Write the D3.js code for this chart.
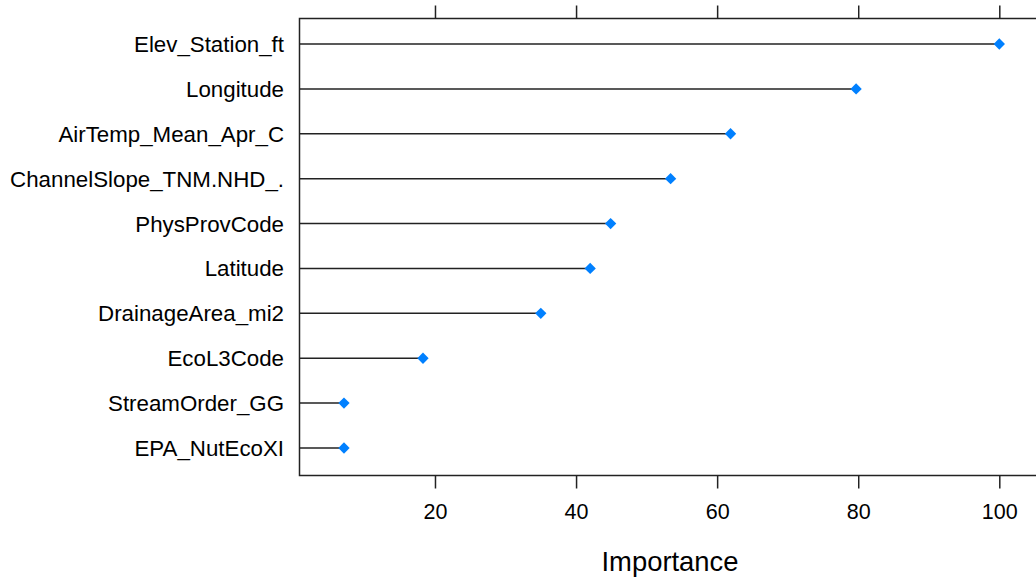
<!DOCTYPE html>
<html>
<head>
<meta charset="utf-8">
<script src="https://cdn.jsdelivr.net/npm/d3@7"></script>
<style>
  body { margin: 0; background: #fff; }
  text { font-family: "Liberation Sans", Arial, sans-serif; fill: #000; }
</style>
</head>
<body>
<div id="vis"></div>
<script>
// frame constants
const FRAME_WIDTH = 1036;
const FRAME_HEIGHT = 582;
const PLOT = {left: 299.5, right: 1045, top: 18.5, bottom: 475.5};

// data (top to bottom)
const variables = ["Elev_Station_ft", "Longitude", "AirTemp_Mean_Apr_C",
  "ChannelSlope_TNM.NHD_.", "PhysProvCode", "Latitude", "DrainageArea_mi2",
  "EcoL3Code", "StreamOrder_GG", "EPA_NutEcoXI"];
const importance = [100, 79.7, 61.9, 53.4, 44.9, 42.0, 35.0, 18.3, 7.1, 7.1];
const xTicks = [20, 40, 60, 80, 100];

const svg = d3.select("#vis")
  .append("svg")
    .attr("width", FRAME_WIDTH)
    .attr("height", FRAME_HEIGHT);

// scales
const X_SCALE = d3.scaleLinear()
  .domain([0, 100])
  .range([293.9, 999.3]);

const Y_SCALE = d3.scalePoint()
  .domain(variables)
  .range([44, 448]);

// stems from left edge to points
svg.selectAll(".stem")
  .data(variables)
  .enter()
  .append("line")
    .attr("x1", PLOT.left)
    .attr("x2", (d, i) => X_SCALE(importance[i]))
    .attr("y1", d => Y_SCALE(d))
    .attr("y2", d => Y_SCALE(d))
    .attr("stroke", "#222")
    .attr("stroke-width", 1.5);

// points
svg.selectAll(".pt")
  .data(variables)
  .enter()
  .append("path")
    .attr("d", d3.symbol().type(d3.symbolSquare).size(64))
    .attr("transform", (d, i) => "translate(" + X_SCALE(importance[i]) + "," + Y_SCALE(d) + ") rotate(45)")
    .attr("fill", "#0080ff");

// frame
svg.append("rect")
  .attr("x", PLOT.left)
  .attr("y", PLOT.top)
  .attr("width", PLOT.right - PLOT.left)
  .attr("height", PLOT.bottom - PLOT.top)
  .attr("fill", "none")
  .attr("stroke", "#222")
  .attr("stroke-width", 1.5);

// bottom axis
const bottomAxis = svg.append("g")
  .attr("transform", "translate(0," + PLOT.bottom + ")")
  .call(d3.axisBottom(X_SCALE).tickValues(xTicks).tickSize(13).tickPadding(15));
bottomAxis.select(".domain").remove();
bottomAxis.selectAll("line").attr("stroke", "#222").attr("stroke-width", 1.5);
bottomAxis.selectAll("text")
  .attr("font-size", "21.5px")
  .attr("font-family", "Liberation Sans, Arial, sans-serif")
  .attr("fill", "#000");

// top axis (ticks only)
const topAxis = svg.append("g")
  .attr("transform", "translate(0," + PLOT.top + ")")
  .call(d3.axisTop(X_SCALE).tickValues(xTicks).tickSize(13).tickFormat(""));
topAxis.select(".domain").remove();
topAxis.selectAll("line").attr("stroke", "#222").attr("stroke-width", 1.5);

// category labels
svg.selectAll(".lab")
  .data(variables)
  .enter()
  .append("text")
    .attr("x", 284)
    .attr("y", d => Y_SCALE(d))
    .attr("dy", "0.36em")
    .attr("text-anchor", "end")
    .attr("font-size", "22.3px")
    .text(d => d);

// axis title
svg.append("text")
  .attr("x", 670)
  .attr("y", 571)
  .attr("text-anchor", "middle")
  .attr("font-size", "27.4px")
  .text("Importance");
</script>
</body>
</html>
